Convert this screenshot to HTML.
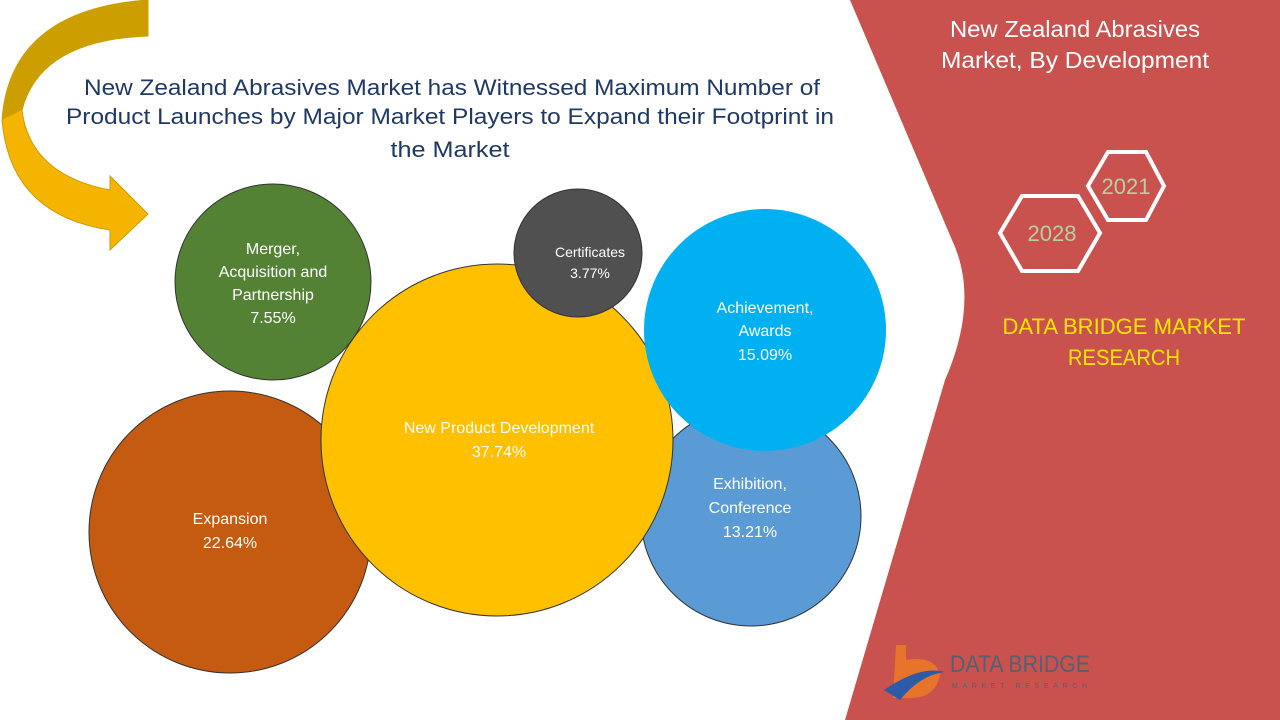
<!DOCTYPE html>
<html><head><meta charset="utf-8"><style>
html,body{margin:0;padding:0;width:1280px;height:720px;overflow:hidden;background:#fff;font-family:"Liberation Sans",sans-serif}
</style></head><body>
<svg width="1280" height="720" viewBox="0 0 1280 720" xmlns="http://www.w3.org/2000/svg" font-family="Liberation Sans, sans-serif">
<rect width="1280" height="720" fill="#fff"/>
<path d="M850,0 L1280,0 L1280,720 L845,720 L945,380 Q980,300 952,240 Z" fill="#C9524F"/>
<!-- arrow -->
<path d="M148,0 L148,36 Q40,40 22,110 Q30,175 110,190 L110,176 L148,214 L110,250 L110,230 Q10,215 2,120 Q10,10 148,0 Z" fill="#F5B400" stroke="#C9A000" stroke-width="1"/>
<path d="M148,0 L148,36 Q40,40 22,110 L2,120 Q10,10 148,0 Z" fill="#CC9E00"/>
<g font-size="22" fill="#1F3864" text-anchor="middle">
<text x="452" y="95" textLength="736" lengthAdjust="spacingAndGlyphs">New Zealand Abrasives Market has Witnessed Maximum Number of</text>
<text x="450" y="124" textLength="768" lengthAdjust="spacingAndGlyphs">Product Launches by Major Market Players to Expand their Footprint in</text>
<text x="450" y="157" textLength="119" lengthAdjust="spacingAndGlyphs">the Market</text>
</g>
<g stroke="#333" stroke-width="1">
<circle cx="230" cy="532" r="141" fill="#C55A11"/>
<circle cx="751" cy="516" r="110" fill="#5B9BD5"/>
<circle cx="497" cy="440" r="176" fill="#FFC000"/>
<circle cx="765" cy="330" r="121" fill="#00B0F0" stroke="none"/>
<circle cx="578" cy="253" r="64" fill="#505050"/>
<circle cx="273" cy="282" r="98" fill="#548235"/>
</g>
<g fill="#fff" text-anchor="middle" font-size="16">
<text x="273" y="254">Merger,</text><text x="273" y="277">Acquisition and</text><text x="273" y="300">Partnership</text><text x="273" y="323">7.55%</text>
<text x="590" y="257" font-size="14">Certificates</text><text x="590" y="278" font-size="14">3.77%</text>
<text x="765" y="313">Achievement,</text><text x="765" y="336">Awards</text><text x="765" y="360">15.09%</text>
<text x="499" y="433">New Product Development</text><text x="499" y="457">37.74%</text>
<text x="750" y="489">Exhibition,</text><text x="750" y="513">Conference</text><text x="750" y="537">13.21%</text>
<text x="230" y="524">Expansion</text><text x="230" y="548">22.64%</text>
</g>
<g fill="#fff" text-anchor="middle" font-size="23">
<text x="1075" y="37" textLength="250" lengthAdjust="spacingAndGlyphs">New Zealand Abrasives</text><text x="1075" y="68" textLength="268" lengthAdjust="spacingAndGlyphs">Market, By Development</text>
</g>
<polygon points="1088,186 1108,152 1146,152 1164,186 1146,220 1108,220" fill="none" stroke="#fff" stroke-width="4"/>
<polygon points="1000,233 1022,196 1078,196 1100,233 1078,271 1022,271" fill="none" stroke="#fff" stroke-width="4"/>
<text x="1126" y="194" font-size="22" fill="#B8CFA0" text-anchor="middle">2021</text>
<text x="1052" y="241" font-size="22" fill="#B8CFA0" text-anchor="middle">2028</text>
<g fill="#FFE600" text-anchor="middle" font-size="22">
<text x="1124" y="334" textLength="243" lengthAdjust="spacingAndGlyphs">DATA BRIDGE MARKET</text><text x="1124" y="365" textLength="112" lengthAdjust="spacingAndGlyphs">RESEARCH</text>
</g>
<path d="M896,645 L906,645 L906,660 Q935,655 940,675 Q935,700 905,698 L893,698 Z" fill="#E8732A"/>
<path d="M884,690 Q920,665 945,672 Q920,675 900,700 Z" fill="#2E5BA8"/>
<text x="950" y="672" font-size="24" fill="#556070" textLength="140" lengthAdjust="spacingAndGlyphs">DATA BRIDGE</text>
<text x="952" y="688" font-size="7" fill="#556070" textLength="135" lengthAdjust="spacing">MARKET RESEARCH</text>
</svg>
</body></html>
